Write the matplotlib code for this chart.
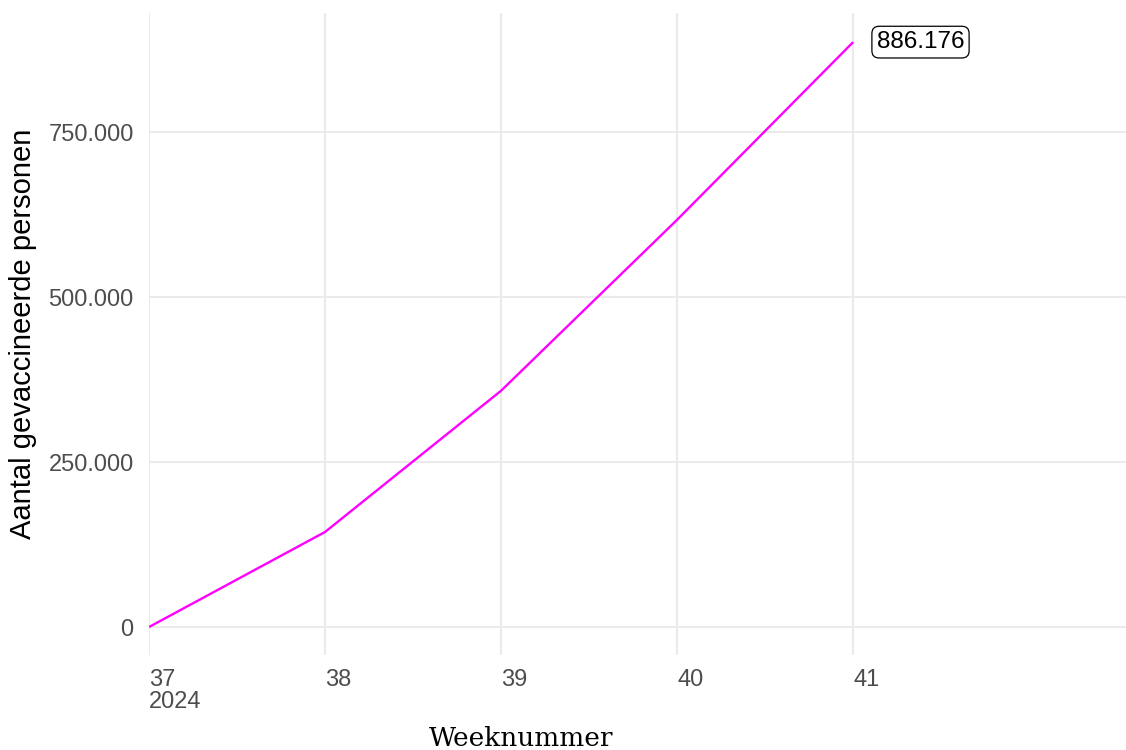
import matplotlib
matplotlib.use("Agg")
import matplotlib.pyplot as plt
from matplotlib.ticker import FuncFormatter

# data
weeks = [37, 38, 39, 40, 41]
vaccinated = [0, 144000, 358000, 617000, 886176]
week_labels = ["37\n2024", "38", "39", "40", "41"]
y_ticks = [0, 250000, 500000, 750000]

def dutch_thousands(v, pos=None):
    return f"{int(round(v)):,}".replace(",", ".")

plt.rcParams['font.family'] = ['Liberation Sans', 'DejaVu Sans']

fig = plt.figure(figsize=(11.26, 7.5), dpi=100)
ax = fig.add_axes([149 / 1126, 1 - 655 / 750, 1 - 149 / 1126, (655 - 13) / 750])

ax.plot(weeks, vaccinated, color='#FF00FF', lw=1.7, solid_capstyle='butt', zorder=3)

last_x, last_y = weeks[-1], vaccinated[-1]
ax.annotate(dutch_thousands(last_y), xy=(last_x, last_y), xytext=(17, 0),
            textcoords='offset points', ha='left', va='center', fontsize=17.5,
            color='black',
            bbox=dict(boxstyle='round,pad=0.2,rounding_size=0.3', fc='white',
                      ec='black', lw=0.9))

ax.set_xlim(37, 42.55)
ax.set_ylim(-42400, 930300)
ax.set_xticks(weeks)
ax.set_xticklabels(week_labels, ha='left', va='top', linespacing=1.0)
ax.set_yticks(y_ticks)
ax.yaxis.set_major_formatter(FuncFormatter(dutch_thousands))

ax.grid(True, color='#EBEBEB', lw=1.5)
ax.set_axisbelow(True)
for s in ax.spines.values():
    s.set_visible(False)
ax.tick_params(length=0, labelsize=17, labelcolor='#4D4D4D')
ax.tick_params(axis='x', pad=10)
ax.tick_params(axis='y', pad=11)

ax.set_ylabel("Aantal gevaccineerde personen", fontsize=21, labelpad=8)
ax.set_xlabel("Weeknummer", fontsize=19, family=['DejaVu Serif'], va='baseline')
ax.xaxis.set_label_coords(0.381, -0.1417)

fig.savefig("out.png", dpi=100)
